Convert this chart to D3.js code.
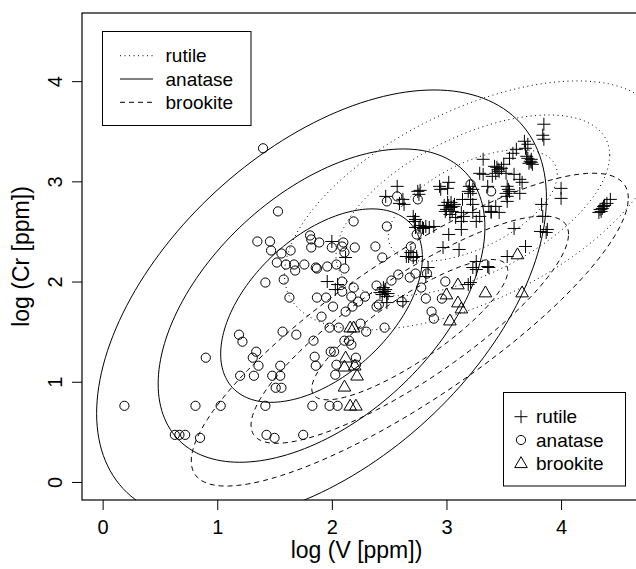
<!DOCTYPE html>
<html>
<head>
<meta charset="utf-8">
<script src="https://cdn.jsdelivr.net/npm/d3@7"></script>
<style>
body { margin: 0; background: #fff; }
svg { display: block; font-family: "Liberation Sans", Arial, Helvetica, sans-serif; }
</style>
</head>
<body>
<svg id="chart"></svg>
<script>
// log(V), log(Cr) pairs
const rutile = [
  [3.85,3.57],[3.84,3.46],[3.85,3.42],[3.68,3.40],[3.71,3.37],[3.69,3.33],[3.61,3.32],[3.58,3.28],
  [3.71,3.23],[3.74,3.22],[3.72,3.18],[3.75,3.17],[3.32,3.22],[3.29,3.08],[3.32,3.07],[3.42,3.15],
  [3.45,3.12],[3.43,3.08],[3.40,3.05],[3.55,3.23],[3.52,3.08],[3.59,3.07],[3.66,2.99],[3.53,2.95],
  [3.55,2.90],[3.53,2.85],[3.53,2.80],[3.64,2.88],[3.36,2.95],[3.43,2.75],[3.39,2.69],[3.02,2.99],
  [3.01,2.93],[2.95,2.92],[3.20,2.95],[3.19,2.90],[3.21,2.82],[3.23,2.77],[3.14,2.82],[3.23,2.69],
  [3.29,2.65],[3.26,2.60],[3.13,2.69],[3.01,2.79],[3.04,2.74],[3.00,2.72],[3.07,2.77],[3.03,2.67],
  [3.08,2.64],[3.13,2.60],[3.13,2.52],[3.02,2.47],[3.46,2.69],[3.59,2.53],[2.97,2.34],[3.11,2.32],
  [2.57,2.95],[2.62,2.82],[2.63,2.77],[2.75,2.90],[2.76,2.87],[2.71,2.65],[2.72,2.60],[2.73,2.54],
  [2.79,2.54],[2.85,2.54],[2.89,2.55],[2.76,2.54],[2.82,2.55],[2.69,2.29],[2.65,2.25],[2.82,2.05],
  [3.26,2.20],[3.36,2.15],[3.53,2.25],[3.69,2.35],[3.84,2.65],[3.88,2.52],[3.87,2.49],[4.00,2.93],
  [4.00,2.83],[4.34,2.72],[4.37,2.75],[4.40,2.78],[4.43,2.82],[4.33,2.69],[4.35,2.70],[3.19,1.97],
  [3.21,1.99],[3.23,2.14],[3.37,2.14],[3.83,2.77],[3.82,2.50],[2.94,2.95],[3.21,2.88],[3.23,2.92],
  [3.15,2.65],[3.37,2.75],[3.39,2.70],[2.47,2.85],[2.59,2.78],[2.77,2.91],[2.73,2.62],[3.50,3.17],
  [3.64,3.02],[2.67,2.25],[2.71,2.24],[2.74,2.25],[2.84,2.14],[3.26,2.12],[2.46,1.90],[2.48,1.85],
  [2.45,1.94],[2.48,1.79],[2.42,1.89],[2.49,1.88],[2.62,1.80],[1.96,2.00],[2.03,1.92],[2.00,2.40],
  [2.12,2.24],[2.05,1.97],[2.98,2.76],[3.05,2.70],[3.02,2.76],[3.06,2.75],[2.99,2.70],[3.04,2.79],
  [3.46,3.10],[3.44,3.14],[3.48,3.13],[3.73,3.20],[3.70,3.25],[3.74,3.19],[2.80,2.53],[2.77,2.56],
  [2.47,1.92],[2.44,1.87],[3.54,2.92],[3.52,2.88],[4.36,2.73],[4.38,2.76]
]
const anatase = [
  [1.40,3.33],[1.53,2.70],[1.35,2.40],[1.46,2.40],[1.47,2.31],[1.56,2.28],[1.64,2.31],[1.52,2.19],
  [1.60,2.17],[1.67,2.17],[1.76,2.17],[1.68,2.11],[1.42,1.99],[1.58,2.02],[1.81,2.46],[1.82,2.34],
  [1.82,2.42],[1.86,2.14],[1.89,2.39],[2.00,2.34],[2.10,2.39],[2.11,2.29],[1.87,2.13],[1.96,2.15],
  [2.04,2.17],[2.11,2.13],[1.63,1.84],[1.87,1.84],[1.95,1.84],[2.01,1.75],[1.91,1.65],[1.98,1.54],
  [2.06,1.54],[2.09,2.00],[2.09,1.90],[1.19,1.47],[1.22,1.40],[1.57,1.50],[1.69,1.47],[1.84,1.41],
  [1.85,1.25],[1.86,1.16],[2.02,1.30],[2.04,1.17],[2.03,1.07],[2.11,1.41],[2.15,1.41],[2.17,1.37],
  [1.34,1.30],[1.31,1.24],[1.36,1.16],[1.55,1.16],[1.20,1.06],[1.32,1.06],[1.48,1.06],[1.55,1.06],
  [1.51,0.94],[1.56,0.94],[0.90,1.24],[1.03,0.76],[1.42,0.76],[1.83,0.76],[1.98,0.76],[2.05,0.76],
  [2.19,1.94],[2.17,1.85],[2.29,1.85],[2.23,1.80],[2.18,1.75],[2.12,1.70],[2.39,1.75],[2.39,1.96],
  [2.25,1.58],[2.30,1.50],[2.46,1.54],[2.21,1.24],[2.21,1.17],[0.81,0.76],[0.63,0.47],[0.67,0.47],
  [0.72,0.47],[0.85,0.44],[1.43,0.47],[1.50,0.44],[1.75,0.47],[2.82,1.83],[2.87,1.70],[2.89,1.63],
  [2.99,2.00],[2.96,1.83],[2.78,1.94],[2.68,2.04],[2.58,2.07],[2.52,2.01],[2.73,2.08],[2.83,2.08],
  [2.44,2.24],[2.61,1.80],[2.41,1.77],[2.48,2.80],[2.57,2.85],[2.75,2.82],[3.21,2.97],[3.39,2.90],
  [2.19,2.60],[2.48,2.55],[2.74,2.47],[2.09,2.35],[2.20,2.34],[2.38,2.35],[2.69,2.35],[2.71,2.25],
  [0.19,0.76],[1.99,1.30]
]
const brookite = [
  [2.16,1.54],[2.19,1.54],[2.12,1.24],[2.11,1.15],[2.20,1.16],[2.22,1.06],[2.11,0.95],[2.16,0.76],
  [2.21,0.76],[3.10,1.97],[3.00,1.87],[3.10,1.79],[3.13,1.73],[3.03,1.61],[3.34,1.89],[3.66,1.89],
  [3.62,2.27]
]

// ellipse parameters per mineral, same order as minerals
const minerals = ['rutile', 'anatase', 'brookite']
const centreV = [3.23, 1.91, 2.68]
const centreCr = [2.76, 1.76, 1.52]
const sdV = [0.737, 0.88, 0.855]
const sdCr = [0.557, 0.965, 0.70]
const rho = [0.555, 0.5, 0.84]
const levels = [1, 1.62, 2.23]
const ticks = [0, 1, 2, 3, 4]

const dashes = { rutile: '1,3.5', anatase: null, brookite: '5,4' }
const symbols = {
  rutile: 'M-6.5,0H6.5M0,-6.5V6.5',
  anatase: d3.symbol(d3.symbolCircle, Math.PI * 4.6 * 4.6)(),
  brookite: 'M0,-6.6L6.3,4.3L-6.3,4.3Z'
}

const width = 636, height = 569
const svg = d3.select('#chart').attr('width', width).attr('height', height)
const x = d3.scaleLinear().domain([-0.18, 4.68]).range([82, 639])
const y = d3.scaleLinear().domain([-0.18, 4.68]).range([500, 13])

svg.append('clipPath').attr('id', 'plot')
  .append('rect')
  .attr('x', x.range()[0]).attr('y', y.range()[1])
  .attr('width', x.range()[1] - x.range()[0])
  .attr('height', y.range()[0] - y.range()[1])

const plot = svg.append('g').attr('clip-path', 'url(#plot)')

// ellipses: x = cV + r sV cos t, y = cCr + r sCr (rho cos t + sqrt(1-rho^2) sin t)
const line = d3.line().x(d => x(d[0])).y(d => y(d[1]))
const angles = d3.range(0, 361, 2).map(a => a * Math.PI / 180)
minerals.forEach((m, i) => {
  levels.forEach(r => {
    const pts = angles.map(t => [
      centreV[i] + r * sdV[i] * Math.cos(t),
      centreCr[i] + r * sdCr[i] * (rho[i] * Math.cos(t) + Math.sqrt(1 - rho[i] * rho[i]) * Math.sin(t))
    ])
    plot.append('path')
      .attr('d', line(pts))
      .attr('fill', 'none')
      .attr('stroke', '#000')
      .attr('stroke-width', 1)
      .attr('stroke-dasharray', dashes[m])
  })
})

const groups = { rutile, anatase, brookite }
minerals.forEach(m => {
  plot.selectAll('.pt-' + m).data(groups[m])
    .enter()
    .append('path')
    .attr('class', 'pt-' + m)
    .attr('transform', d => `translate(${x(d[0])},${y(d[1])})`)
    .attr('d', symbols[m])
    .attr('fill', 'none')
    .attr('stroke', '#000')
    .attr('stroke-width', 1)
})

svg.append('rect')
  .attr('x', x.range()[0]).attr('y', y.range()[1])
  .attr('width', x.range()[1] - x.range()[0])
  .attr('height', y.range()[0] - y.range()[1])
  .attr('fill', 'none').attr('stroke', '#000').attr('stroke-width', 1.2)

// axes
const xAxis = svg.append('g')
  .attr('transform', `translate(0,${y.range()[0]})`)
  .call(d3.axisBottom(x).tickValues(ticks).tickSize(10).tickPadding(10).tickFormat(d3.format('d')))
xAxis.select('.domain').remove()
xAxis.selectAll('text').attr('font-size', 20).attr('font-family', null).attr('fill', '#000')
xAxis.selectAll('line').attr('stroke', '#000')

const yAxis = svg.append('g')
  .attr('transform', `translate(${x.range()[0]},0)`)
  .call(d3.axisLeft(y).tickValues(ticks).tickSize(10).tickFormat(d3.format('d')))
yAxis.select('.domain').remove()
yAxis.selectAll('line').attr('stroke', '#000')
yAxis.selectAll('text')
  .attr('x', null).attr('dy', null)
  .attr('transform', 'translate(-20,0) rotate(-90)')
  .attr('text-anchor', 'middle')
  .attr('font-size', 20).attr('font-family', null).attr('fill', '#000')

svg.append('text')
  .attr('x', (x.range()[0] + x.range()[1]) / 2 - 4).attr('y', 558)
  .attr('text-anchor', 'middle').attr('font-size', 23)
  .text('log (V [ppm])')

svg.append('text')
  .attr('transform', `translate(29,${(y.range()[0] + y.range()[1]) / 2}) rotate(-90)`)
  .attr('text-anchor', 'middle').attr('font-size', 23)
  .text('log (Cr [ppm])')

// legend for ellipses
const leg1 = svg.append('g')
leg1.append('rect').attr('x', 102.5).attr('y', 31.5).attr('width', 148.5).attr('height', 94)
  .attr('fill', '#fff').attr('stroke', '#000')
minerals.forEach((m, i) => {
  const ly = 55.7 + i * 23.3
  leg1.append('line').attr('x1', 120).attr('x2', 153).attr('y1', ly).attr('y2', ly)
    .attr('stroke', '#000').attr('stroke-dasharray', dashes[m])
  leg1.append('text').attr('x', 165.5).attr('y', ly).attr('dy', '0.35em')
    .attr('font-size', 19).text(m)
})

// legend for points
const leg2 = svg.append('g')
leg2.append('rect').attr('x', 503.5).attr('y', 392.5).attr('width', 122).attr('height', 93.5)
  .attr('fill', '#fff').attr('stroke', '#000')
minerals.forEach((m, i) => {
  const ly = 416.7 + i * 23.3
  leg2.append('path').attr('transform', `translate(521,${ly})`).attr('d', symbols[m])
    .attr('fill', 'none').attr('stroke', '#000')
  leg2.append('text').attr('x', 536).attr('y', ly).attr('dy', '0.35em')
    .attr('font-size', 19).text(m)
})
</script>
</body>
</html>
